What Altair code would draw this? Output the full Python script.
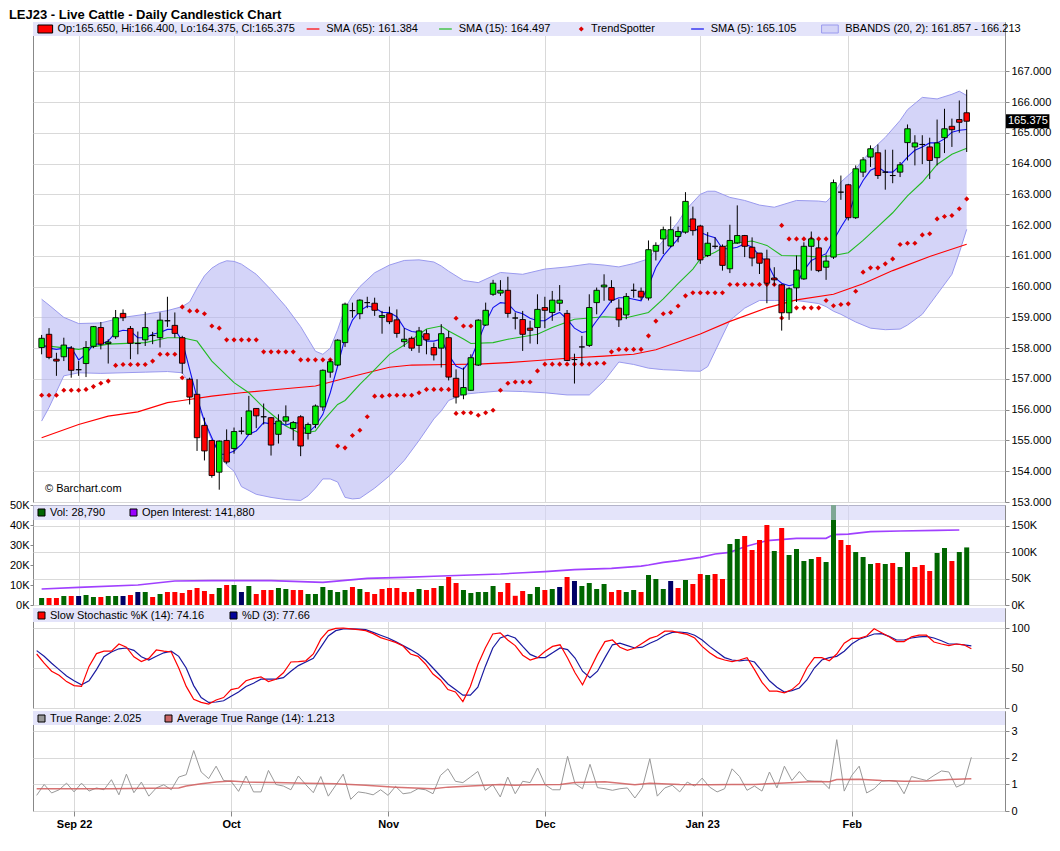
import altair as alt
import pandas as pd

FONT = 'Liberation Sans'
W = 972
H_PRICE = 480
H_SUB = 100
STRIP = '#e4e4fa'
GRID = '#d9d9d9'
S = W / 991.0

month_idx = [5, 26, 47, 68, 89, 109]
month_lbl = ['Sep 22', 'Oct', 'Nov', 'Dec', 'Jan 23', 'Feb']

opens = [158.02, 158.45, 157.64, 157.72, 158.0, 157.3, 157.5, 158.06, 158.67, 158.15,
         158.37, 159.13, 158.64, 158.15, 158.27, 158.41, 158.34, 158.89, 158.74, 158.34,
         156.99, 156.5, 155.49, 155.0, 153.97, 155.0, 154.74, 155.3, 155.2, 156.04,
         155.77, 155.74, 155.2, 155.63, 155.39, 155.77, 155.23, 155.52, 156.09, 157.22,
         157.45, 158.18, 159.22, 159.12, 159.48, 159.46, 159.0, 159.12, 158.92, 158.21,
         158.32, 158.09, 158.47, 158.02, 158.0, 158.34, 157.02, 156.48, 156.63, 157.45,
         158.75, 159.75, 159.79, 159.88, 158.98, 158.93, 158.65, 158.67, 159.32, 159.16,
         159.46, 159.13, 157.63, 158.04, 158.09, 159.48, 159.99, 159.97, 159.3, 159.08,
         159.88, 159.85, 159.63, 161.15, 161.55, 161.32, 161.63, 161.77, 162.2, 161.97,
         161.01, 161.31, 161.31, 160.58, 161.42, 161.66, 161.28, 161.09, 160.9, 160.28,
         160.06, 159.15, 159.96, 160.25, 161.31, 161.26, 160.63, 160.96, 163.07, 163.31,
         162.24, 163.72, 164.21, 164.35, 163.72, 163.61, 163.72, 164.68, 164.54, 164.62,
         164.54, 164.19, 164.84, 165.21, 165.43, 165.65]
highs = [158.43, 158.65, 157.85, 158.34, 158.07, 157.58, 158.23, 158.72, 158.85, 158.29,
         159.24, 159.26, 158.72, 158.54, 159.18, 158.53, 159.16, 159.67, 159.16, 158.4,
         157.04, 156.99, 155.74, 155.02, 155.0, 155.36, 155.42, 155.76, 156.45, 156.05,
         156.2, 155.76, 155.85, 156.14, 155.63, 155.82, 155.58, 156.17, 157.31, 157.64,
         158.29, 159.48, 159.48, 159.59, 159.67, 159.64, 159.21, 159.35, 159.26, 158.65,
         158.38, 158.69, 158.61, 158.18, 158.78, 158.56, 157.31, 157.37, 157.8, 158.94,
         159.48, 160.22, 160.21, 160.32, 159.16, 159.21, 158.89, 159.75, 159.67, 159.86,
         160.05, 159.24, 157.82, 158.4, 159.75, 159.97, 160.4, 160.21, 159.59, 159.79,
         160.1, 159.97, 161.5, 161.44, 161.95, 162.28, 161.95, 163.07, 162.6, 162.01,
         161.77, 161.6, 161.37, 162.01, 162.64, 161.68, 161.6, 161.09, 161.2, 160.63,
         160.09, 159.98, 161.01, 161.44, 161.79, 161.5, 161.04, 163.48, 163.61, 163.34,
         163.94, 164.21, 164.59, 164.62, 164.45, 164.45, 164.05, 165.27, 164.92, 164.92,
         164.84, 165.43, 165.78, 165.46, 166.05, 166.4]
lows = [157.8, 157.64, 157.1, 157.58, 157.04, 157.1, 157.06, 158.0, 157.96, 157.5,
        158.3, 158.88, 157.64, 157.8, 158.07, 158.13, 158.02, 158.69, 158.34, 157.17,
        156.17, 154.66, 154.35, 153.79, 153.4, 154.24, 154.57, 155.2, 155.18, 155.4,
        155.52, 154.51, 154.9, 155.52, 155.0, 154.49, 155.03, 155.4, 155.96, 157.04,
        157.42, 158.04, 158.99, 158.94, 159.3, 159.05, 158.47, 158.78, 158.34, 158.04,
        157.91, 157.85, 157.8, 157.6, 157.37, 156.95, 156.2, 156.34, 156.61, 157.42,
        158.72, 159.7, 159.7, 158.99, 158.61, 157.91, 158.15, 158.13, 158.65, 158.89,
        159.21, 157.58, 156.85, 157.48, 158.04, 159.1, 159.54, 159.48, 158.69, 158.94,
        159.64, 159.56, 159.55, 160.85, 161.06, 161.28, 161.44, 161.72, 161.66, 160.74,
        160.96, 161.23, 160.52, 160.44, 161.39, 160.96, 160.66, 160.41, 159.46, 160.03,
        158.57, 158.92, 159.5, 160.22, 160.52, 160.47, 160.22, 160.9, 162.82, 162.15,
        162.2, 163.56, 163.89, 163.5, 163.15, 163.36, 163.56, 164.1, 163.94, 163.98,
        163.5, 163.94, 164.34, 164.54, 165.0, 164.375]
closes = [158.32, 157.7, 157.58, 158.1, 157.28, 157.3, 158.02, 158.7, 158.13, 158.2,
          158.99, 158.99, 158.16, 158.15, 158.67, 158.41, 158.91, 158.89, 158.48, 157.51,
          156.41, 155.09, 154.66, 153.86, 154.98, 154.3, 155.29, 155.3, 155.96, 155.8,
          155.77, 154.85, 155.63, 155.77, 155.58, 154.82, 155.52, 156.12, 157.28, 157.56,
          158.26, 159.43, 159.22, 159.56, 159.48, 159.23, 159.06, 158.86, 158.48, 158.29,
          158.0, 158.56, 158.27, 157.78, 158.47, 157.06, 156.41, 156.72, 157.69, 158.91,
          159.23, 160.11, 159.88, 159.13, 158.98, 158.45, 158.58, 159.26, 159.23, 159.56,
          159.56, 157.6, 157.63, 158.04, 159.32, 159.88, 160.05, 159.56, 158.92, 159.68,
          159.88, 159.66, 161.2, 161.34, 161.85, 161.85, 161.79, 162.77, 161.82, 160.87,
          161.41, 161.31, 160.69, 161.5, 161.66, 161.31, 160.93, 160.76, 160.11, 160.22,
          159.15, 159.93, 160.54, 161.31, 161.55, 160.52, 160.83, 163.38, 163.07, 162.24,
          163.83, 164.12, 164.48, 163.61, 163.72, 163.61, 163.96, 165.13, 164.67, 164.62,
          164.1, 164.67, 165.13, 165.1, 165.34, 165.375]

sma5 = [158.1, 158.0, 157.96, 158.0, 158.02, 157.62, 157.8, 158.13, 158.13, 158.23,
        158.51, 158.58, 158.56, 158.34, 158.34, 158.45, 158.51, 158.61, 158.61, 158.23,
        157.31, 156.39, 155.63, 155.09, 154.55, 154.55, 154.66, 154.87, 155.2, 155.31,
        155.58, 155.54, 155.56, 155.5, 155.58, 155.56, 155.25, 155.47, 155.85, 156.55,
        157.42, 158.34, 158.91, 159.21, 159.37, 159.32, 159.16, 159.16, 159.02, 158.65,
        158.54, 158.51, 158.23, 158.23, 158.29, 157.78, 157.42, 157.31, 157.64, 158.23,
        158.83, 159.32, 159.48, 159.45, 159.19, 159.12, 158.97, 158.89, 158.89, 159.05,
        159.16, 158.94, 158.65, 158.51, 158.56, 158.89, 159.21, 159.54, 159.64, 159.64,
        159.59, 159.54, 160.02, 160.62, 161.0, 161.28, 161.55, 161.99, 161.93, 161.77,
        161.66, 161.59, 161.23, 161.23, 161.28, 161.39, 161.28, 161.01, 160.79, 160.31,
        160.11, 160.03, 160.09, 160.52, 160.85, 160.96, 161.07, 161.5, 161.93, 162.31,
        163.02, 163.45, 163.78, 163.89, 163.72, 163.72, 163.94, 164.21, 164.43, 164.54,
        164.67, 164.67, 164.8, 165.02, 165.08, 165.105]

sma15_idx = [0, 5, 9, 14, 17, 19, 21, 23, 26, 28, 30, 33, 35, 37, 38, 40, 41, 43, 45, 47,
             49, 52, 54, 55, 57, 58, 61, 63, 67, 69, 72, 76, 79, 82, 84, 86, 88, 89, 91, 93,
             96, 98, 100, 103, 105, 107, 109, 111, 113, 115, 117, 119, 121, 123, 125]
sma15_val = [158.09, 157.96, 158.13, 158.18, 158.34, 158.34, 158.23, 157.58, 156.88, 156.55,
             156.07, 155.47, 155.22, 155.31, 155.63, 156.17, 156.3, 156.82, 157.3, 157.8,
             158.1, 158.62, 158.72, 158.56, 158.3, 158.15, 158.18, 158.29, 158.45, 158.67,
             158.94, 159.02, 158.99, 159.16, 159.6, 160.1, 160.57, 160.9, 161.12, 161.39,
             161.48, 161.34, 161.01, 161.0, 160.96, 161.01, 161.1, 161.5, 161.95, 162.4,
             162.95, 163.4, 163.97, 164.3, 164.5]

sma65_idx = [0, 5, 9, 13, 17, 19, 23, 27, 31, 37, 41, 44, 47, 50, 55, 59, 63, 67, 72, 76,
             80, 83, 86, 89, 93, 98, 102, 107, 111, 115, 120, 125]
sma65_val = [155.09, 155.52, 155.79, 155.93, 156.23, 156.3, 156.44, 156.55, 156.64, 156.77,
             157.02, 157.2, 157.38, 157.45, 157.47, 157.48, 157.53, 157.6, 157.69, 157.74,
             157.8, 157.95, 158.2, 158.46, 158.87, 159.31, 159.57, 159.75, 160.09, 160.52,
             160.98, 161.38]

bb_idx = [0, 1, 3, 5, 8, 11, 14, 17, 19, 20, 21, 22, 23, 24, 25, 26, 27, 29, 31, 33,
          35, 36, 37, 38, 39, 40, 41, 42, 43, 45, 47, 49, 51, 53, 54, 55, 57, 59, 62, 65,
          68, 71, 74, 76, 78, 80, 82, 84, 86, 87, 89, 90, 91, 93, 95, 97, 99, 102, 105, 106,
          107, 108, 110, 112, 114, 116, 117, 119, 121, 123, 124, 125]
bb_up = [159.59, 159.4, 159.0, 158.8, 158.82, 159.0, 159.1, 159.22, 159.35, 159.5,
         159.95, 160.35, 160.6, 160.75, 160.84, 160.82, 160.73, 160.4, 159.9, 159.35,
         158.7, 158.3, 157.9, 157.8, 158.0, 158.6, 159.3, 159.7, 160.0, 160.45,
         160.7, 160.85, 160.87, 160.8, 160.67, 160.5, 160.2, 160.13, 160.46, 160.4,
         160.57, 160.64, 160.74, 160.7, 160.64, 160.75, 160.9, 161.5, 162.1, 162.48,
         163.0, 163.1, 163.1, 162.9, 162.8, 162.65, 162.58, 162.8, 162.78, 162.75,
         163.0, 163.4, 163.83, 164.4, 164.85, 165.4, 165.75, 166.15, 166.1, 166.25,
         166.35, 166.21]
bb_lo = [155.63, 156.07, 157.1, 157.2, 157.18, 157.2, 157.22, 157.24, 157.2, 156.85,
         156.2, 155.6, 155.0, 154.6, 154.2, 154.0, 153.5, 153.25, 153.15, 153.08,
         153.05, 153.2, 153.45, 153.75, 153.75, 153.65, 153.15, 153.1, 153.12, 153.45,
         153.85, 154.35, 155.0, 155.7, 155.96, 156.3, 156.5, 156.55, 156.61, 156.59,
         156.55, 156.48, 156.48, 156.93, 157.55, 157.47, 157.35, 157.3, 157.28, 157.26,
         157.25, 157.4, 157.9, 158.9, 159.3, 159.55, 159.55, 159.55, 159.45, 159.35,
         159.2, 159.1, 158.85, 158.65, 158.6, 158.62, 158.75, 159.1, 159.75, 160.4,
         161.1, 161.86]

ts_idx = [0, 1, 2, 3, 4, 5, 6, 7, 8, 9, 10, 11, 12, 13, 14, 15, 16, 17, 18, 19,
          19, 20, 21, 22, 23, 24, 25, 26, 27, 28, 29, 30, 31, 32, 33, 34, 35, 36, 37, 38,
          39, 40, 41, 42, 43, 44, 45, 46, 47, 48, 49, 50, 51, 52, 53, 54, 55, 56, 56, 57,
          57, 58, 58, 59, 60, 61, 62, 63, 64, 65, 66, 67, 68, 69, 70, 71, 72, 73, 74, 75,
          76, 77, 78, 79, 80, 81, 82, 83, 84, 85, 86, 87, 88, 89, 90, 91, 92, 93, 94, 95,
          96, 97, 98, 99, 100, 100, 101, 102, 103, 104, 105, 106, 102, 103, 104, 105, 106, 107, 108, 109,
          110, 111, 112, 113, 114, 115, 116, 117, 118, 119, 120, 121, 122, 123, 124, 125]
ts_val = [156.47, 156.47, 156.47, 156.63, 156.63, 156.63, 156.66, 156.75, 156.86, 156.93,
          157.44, 157.47, 157.47, 157.47, 157.47, 157.58, 157.8, 157.8, 157.8, 157.04,
          159.34, 159.21, 159.21, 159.12, 158.72, 158.65, 158.27, 158.27, 158.27, 158.27,
          158.27, 157.88, 157.88, 157.88, 157.88, 157.88, 157.62, 157.62, 157.62, 157.62,
          157.62, 154.82, 154.76, 155.16, 155.33, 155.77, 156.44, 156.44, 156.47, 156.47,
          156.47, 156.47, 156.55, 156.66, 156.66, 156.66, 156.66, 158.97, 155.88, 158.72,
          155.9, 158.72, 155.9, 155.82, 155.9, 155.98, 156.63, 156.86, 156.9, 156.9,
          156.9, 157.26, 157.48, 157.48, 157.48, 157.48, 157.48, 157.48, 157.48, 157.51,
          157.51, 157.88, 157.96, 157.96, 157.96, 157.96, 158.4, 158.88, 159.12, 159.16,
          159.37, 159.7, 159.8, 159.8, 159.8, 159.8, 159.8, 160.07, 160.07, 160.07,
          160.07, 160.07, 160.07, 160.07, 161.99, 158.98, 161.55, 161.55, 161.55, 161.55,
          161.55, 161.55, 159.31, 159.31, 159.31, 159.31, 159.55, 159.38, 159.42, 159.44,
          159.85, 160.47, 160.61, 160.61, 160.74, 160.9, 161.37, 161.41, 161.41, 161.68,
          161.72, 162.2, 162.28, 162.31, 162.53, 162.85]

vol_k = [3.5, 3.5, 3.5, 4.5, 4.5, 4.5, 5.0, 4.0, 4.0, 4.5,
         4.5, 4.5, 5.0, 6.5, 6.5, 4.0, 5.5, 6.5, 6.5, 6.0,
         7.5, 8.5, 7.0, 5.5, 8.5, 10.0, 10.0, 6.5, 9.5, 5.5,
         7.5, 7.5, 8.5, 8.0, 7.5, 7.5, 5.5, 5.5, 9.0, 7.5,
         6.5, 7.5, 9.0, 8.0, 6.5, 5.5, 8.0, 8.5, 8.5, 6.5,
         6.5, 8.0, 7.5, 8.5, 9.5, 14.0, 11.0, 7.5, 6.0, 6.5,
         6.5, 9.5, 6.5, 11.0, 4.6, 7.0, 5.5, 9.0, 7.5, 8.0,
         9.0, 14.0, 12.0, 9.5, 11.0, 8.0, 10.5, 6.5, 7.5, 6.5,
         7.5, 6.5, 15.0, 13.0, 8.0, 12.0, 8.5, 12.5, 10.5, 15.5,
         15.0, 15.5, 13.0, 30.5, 33.0, 34.5, 27.5, 32.5, 40.0, 27.0,
         38.5, 25.0, 28.0, 22.0, 23.0, 24.0, 21.5, 58.0, 32.5, 30.0,
         26.5, 24.0, 20.5, 21.0, 20.5, 21.0, 19.0, 26.5, 19.0, 20.0,
         17.0, 26.0, 28.5, 22.0, 26.5, 28.79]
vol_dir = list('grrgrnggrg' 'gnrngrgrrr' 'rrrrgrgngr' 'rrggrrgggg' 'ggrgrrrrrr'
               'rgrrgrrggg' 'ggrrrrggrg' 'nrnggggrrg' 'grgggnrgrr' 'grrggrrrrg'
               'rggggrggrr' 'gggrgrggrr' 'rggrgg')

oi_idx = [0, 5, 13, 18, 23, 31, 38, 44, 49, 53, 58, 62, 65, 68, 72, 77, 81, 82, 84, 86,
          89, 91, 93, 95, 98, 102, 106, 107, 109, 112, 116, 121, 124]
oi_k = [30.2, 33.4, 37.8, 45.4, 46.0, 46.0, 42.8, 50.4, 52.3, 54.2, 56.7, 58.6, 61.0, 63.0,
        66.8, 69.3, 73.5, 75.5, 80.6, 83.8, 90.0, 96.4, 99.5, 110.0, 121.6, 126.0, 126.0,
        133.0, 134.0, 138.6, 139.9, 141.0, 141.88]

stoch_k = [67.5, 56, 46, 41, 33, 28, 27, 52, 68, 71,
           71, 80, 76, 64, 58, 62, 72.5, 71, 70, 50,
           27, 11, 7, 5, 10, 13, 23, 25, 34, 37,
           39, 33, 36, 44, 57.5, 58, 59, 67.5, 86, 96.7,
           99.6, 100, 99, 98, 96.7, 93, 88, 85, 82, 77.5,
           67.5, 64.6, 55, 42.5, 35, 23, 20, 8, 27, 54,
           75, 92.5, 94, 85, 78, 66, 60, 63, 71, 77,
           79, 62.5, 44, 29, 48, 67, 83, 85, 76, 72,
           75, 81, 87, 90, 96, 96, 94, 92, 87.5, 77,
           69, 63, 60, 58, 60, 63, 48, 32, 21, 21,
           19, 23, 31, 50, 63, 63, 59, 67.5, 81, 87,
           87, 90, 99, 94, 89, 83, 83, 89, 91, 91,
           82.5, 80, 78, 80, 79, 74.16]
stoch_d = [71.7, 64.6, 56, 48, 40, 34, 29, 34, 48, 64,
           70, 74, 75, 72, 64, 60, 64.6, 69, 71, 64.6,
           50, 28, 13, 7, 7.5, 9, 14.6, 20, 27, 31,
           36, 36, 36, 38, 46, 53, 57.5, 62, 76, 90,
           96.7, 99, 99, 98.7, 98, 94.6, 91, 87.5, 83, 78,
           73, 67.5, 60, 50, 40, 30, 23, 16, 16, 26,
           52, 75, 87.5, 91, 87.5, 77, 67, 63, 63, 69,
           75, 73, 62.5, 46, 38, 46, 63, 79, 81, 78,
           75, 76, 81, 85, 91, 94.6, 95, 94, 91, 85,
           77, 70, 63, 60, 59, 60, 57.5, 46, 34, 26,
           20, 21.7, 25, 35, 50, 60, 63, 64.6, 71, 80,
           86, 89, 92.5, 93, 89.6, 85, 85, 87.5, 89, 89.6,
           87.5, 84, 80, 80, 79, 77.66]

true_range = [0.59, 1.0, 0.68, 0.8, 1.05, 0.72, 1.05, 0.75, 0.87, 0.8,
              1.18, 0.61, 1.39, 0.69, 1.09, 0.56, 0.87, 0.99, 0.8, 1.28,
              1.37, 2.28, 1.47, 1.22, 1.69, 1.15, 1.12, 0.74, 1.32, 0.72,
              0.72, 1.53, 1.0, 0.94, 0.8, 1.32, 0.99, 0.69, 1.3, 0.56,
              0.97, 1.39, 0.44, 0.72, 0.68, 0.61, 0.8, 0.59, 0.93, 0.65,
              0.69, 0.84, 0.8, 0.65, 1.34, 1.59, 1.12, 1.07, 1.28, 1.49,
              0.78, 0.99, 0.53, 1.28, 0.65, 1.12, 1.07, 1.62, 0.99, 0.8,
              0.8, 2.06, 1.03, 0.84, 1.76, 0.88, 0.84, 0.78, 0.84, 0.87,
              0.49, 0.88, 1.97, 0.56, 0.87, 0.97, 0.72, 1.09, 0.94, 1.24,
              0.9, 0.72, 0.84, 1.59, 1.3, 0.78, 0.94, 0.75, 1.47, 0.87,
              1.69, 1.15, 1.49, 1.15, 1.12, 1.12, 0.84, 2.69, 0.75, 1.34,
              1.69, 0.68, 0.84, 1.12, 1.15, 1.12, 0.65, 1.3, 1.22, 1.15,
              1.34, 1.51, 1.47, 0.9, 1.03, 2.025]
atr_idx = [0, 5, 10, 15, 19, 20, 22, 24, 26, 28, 32, 36, 40, 44, 48, 53, 55, 58, 62, 64,
           66, 70, 72, 76, 80, 82, 86, 90, 93, 96, 100, 104, 106, 107, 110, 113, 116, 119,
           122, 125]
atr_val = [0.84, 0.84, 0.84, 0.86, 0.87, 0.94, 1.03, 1.09, 1.13, 1.09, 1.07, 1.05, 1.03,
           0.97, 0.9, 0.84, 0.9, 0.94, 1.0, 0.97, 0.99, 1.0, 1.07, 1.1, 0.99, 1.05, 1.0,
           0.99, 1.0, 1.0, 1.06, 1.11, 1.1, 1.19, 1.2, 1.15, 1.12, 1.13, 1.19, 1.213]

# ---------------------------------------------------------------- tables
n = len(closes)
idx = list(range(n))
price_df = pd.DataFrame({'i': idx, 'o': opens, 'h': highs, 'l': lows, 'c': closes,
                         'sma5': sma5})
sma15_df = pd.DataFrame({'i': sma15_idx, 'v': sma15_val})
sma65_df = pd.DataFrame({'i': sma65_idx, 'v': sma65_val})
bb_df = pd.DataFrame({'i': bb_idx, 'up': bb_up, 'lo': bb_lo})
ts_df = pd.DataFrame({'i': ts_idx, 'v': ts_val})
vol_df = pd.DataFrame({'i': idx, 'v': vol_k, 'dir': vol_dir})
oi_df = pd.DataFrame({'i': oi_idx, 'oi': oi_k})
st_df = pd.DataFrame({'i': idx, 'k': stoch_k, 'd': stoch_d})
tr_df = pd.DataFrame({'i': idx, 'tr': true_range})
atr_df = pd.DataFrame({'i': atr_idx, 'atr': atr_val})
last_df = pd.DataFrame({'i': [n - 1], 'c': [closes[-1]]})
ONE = pd.DataFrame({'k': [0]})

lbl_expr = " : ".join(f"datum.value == {v} ? '{t}'" for v, t in zip(month_idx, month_lbl)) + " : ''"
xscale = alt.Scale(domain=[-0.49, 129.5], nice=False, zero=False)


def xenc(labels=False):
    if labels:
        ax = alt.Axis(values=month_idx, labelExpr=lbl_expr, grid=True, gridColor=GRID,
                      domain=False, ticks=True, tickSize=5, tickColor='#888888',
                      labelFontWeight='bold', labelFontSize=11, labelColor='black',
                      labelPadding=2, labelOverlap=False, labelFont=FONT, title=None)
    else:
        ax = alt.Axis(values=month_idx, labels=False, ticks=False, grid=True,
                      gridColor=GRID, domain=False, title=None)
    return alt.X('i:Q', scale=xscale, axis=ax)


def strip(h, color=STRIP, opacity=1.0):
    return alt.Chart(ONE).mark_rect(color=color, opacity=opacity).encode(
        x=alt.value(0), x2=alt.value(W), y=alt.value(0), y2=alt.value(h))


def swatch(x0, x1, y0, y1, fill, stroke='black'):
    return alt.Chart(ONE).mark_rect(fill=fill, stroke=stroke, strokeWidth=1).encode(
        x=alt.value(x0), x2=alt.value(x1), y=alt.value(y0), y2=alt.value(y1))


def lsw(x0, x1, y, color):
    return alt.Chart(ONE).mark_rule(color=color, strokeWidth=1.2).encode(
        x=alt.value(x0), x2=alt.value(x1), y=alt.value(y))


def txt(x, y, s, **kw):
    return alt.Chart(ONE).mark_text(text=s, align='left', baseline='middle', fontSize=11,
                                    font=FONT, color='black', **kw).encode(
        x=alt.value(x), y=alt.value(y))


# ---------------------------------------------------------------- price panel
pscale = alt.Scale(domain=[153, 168.6], nice=False, zero=False)
paxis = alt.Axis(orient='right', values=list(range(153, 168)), format='.3f', grid=True,
                 gridColor=GRID, domain=False, tickSize=4, tickColor='#888888',
                 labelFontSize=11, labelColor='black', labelPadding=2,
                 labelOverlap=False, title=None)


def yP(f):
    return alt.Y(f, scale=pscale, axis=paxis)


bb_area = alt.Chart(bb_df).mark_area(color='#b0b0f2', opacity=0.55).encode(
    x=xenc(), y=yP('up:Q'), y2='lo:Q')
bb_l1 = alt.Chart(bb_df).mark_line(color='#9a9aee', strokeWidth=1).encode(x=xenc(), y=yP('up:Q'))
bb_l2 = alt.Chart(bb_df).mark_line(color='#9a9aee', strokeWidth=1).encode(x=xenc(), y=yP('lo:Q'))
l65 = alt.Chart(sma65_df).mark_line(color='#ff0000', strokeWidth=1.1).encode(x=xenc(), y=yP('v:Q'))
l15 = alt.Chart(sma15_df).mark_line(color='#22bb22', strokeWidth=1.1).encode(x=xenc(), y=yP('v:Q'))
l5 = alt.Chart(price_df).mark_line(color='#1010ee', strokeWidth=1.1).encode(x=xenc(), y=yP('sma5:Q'))
tsp = alt.Chart(ts_df).mark_point(shape='diamond', filled=True, color='#dd0000', size=26,
                                  opacity=1).encode(x=xenc(), y=yP('v:Q'))
wick = alt.Chart(price_df).mark_rule(color='black', strokeWidth=1).encode(
    x=xenc(), y=yP('l:Q'), y2='h:Q')
body = alt.Chart(price_df).mark_bar(size=5.5, stroke='black', strokeWidth=0.9).encode(
    x=xenc(), y=yP('o:Q'), y2='c:Q',
    color=alt.condition('datum.c >= datum.o', alt.value('#00ee00'), alt.value('#ff0000')))
box = alt.Chart(last_df).mark_point(shape='M0,-1H6.2V1H0Z', size=196, filled=True,
                                    color='black', opacity=1, strokeWidth=0).encode(
    x=alt.value(W + 1), y=yP('c:Q'))
boxtxt = alt.Chart(last_df).mark_text(align='left', baseline='middle', color='white',
                                      fontSize=11, font=FONT).encode(
    x=alt.value(W + 3), y=yP('c:Q'), text=alt.Text('c:Q', format='.3f'))

p_leg = [
    strip(14),
    swatch(5 * S, 20 * S, 3, 11, '#ff0000'),
    txt(25 * S, 7, 'Op:165.650, Hi:166.400, Lo:164.375, Cl:165.375'),
    lsw(279 * S, 292 * S, 7, '#ff0000'),
    txt(299 * S, 7, 'SMA (65): 161.384'),
    lsw(414 * S, 427 * S, 7, '#22bb22'),
    txt(434 * S, 7, 'SMA (15): 164.497'),
    alt.Chart(ONE).mark_point(shape='diamond', filled=True, color='#dd0000', size=26,
                              opacity=1).encode(x=alt.value(559 * S), y=alt.value(7)),
    txt(569 * S, 7, 'TrendSpotter'),
    lsw(671 * S, 684 * S, 7, '#1010ee'),
    txt(691 * S, 7, 'SMA (5): 165.105'),
    swatch(804 * S, 821 * S, 3, 11, '#d4d4f7', '#9a9aee'),
    txt(828 * S, 7, 'BBANDS (20, 2): 161.857 - 166.213'),
    txt(12, H_PRICE - 13, '\u00a9 Barchart.com'),
]

price = alt.layer(bb_area, bb_l1, bb_l2, l65, l15, l5, tsp, wick, body, box, boxtxt,
                  *p_leg).properties(width=W, height=H_PRICE)

# ---------------------------------------------------------------- volume panel
vaxis = alt.Axis(orient='left', values=[0, 10, 20, 30, 40, 50], labelExpr="datum.value + 'K'",
                 grid=False, domain=False, tickSize=3, tickColor='#888888', labelFontSize=11,
                 labelColor='black', labelPadding=1, title=None)
oaxis = alt.Axis(orient='right', values=[0, 50, 100, 150], labelExpr="datum.value + 'K'",
                 grid=True, gridColor=GRID, domain=False, tickSize=4, tickColor='#888888',
                 labelFontSize=11, labelColor='black', labelPadding=2, title=None)
vbars = alt.Chart(vol_df).mark_bar(size=5, clip=True).encode(
    x=xenc(), y=alt.Y('v:Q', scale=alt.Scale(domain=[0, 50], nice=False), axis=vaxis),
    color=alt.Color('dir:N', scale=alt.Scale(domain=['g', 'r', 'n'],
                                             range=['#006600', '#ff0000', '#000066']),
                    legend=None))
oil = alt.Chart(oi_df).mark_line(color='#a040ff', strokeWidth=1.6).encode(
    x=xenc(), y=alt.Y('oi:Q', scale=alt.Scale(domain=[0, 189], nice=False), axis=oaxis))
v_leg = [
    strip(15, '#d2d2f7', 0.6),
    swatch(5, 12, 4, 11, '#006600'),
    txt(17, 7.5, 'Vol: 28,790'),
    swatch(97, 104, 4, 11, '#9900ff'),
    txt(109, 7.5, 'Open Interest: 141,880'),
]
volume = alt.layer(oil, vbars, *v_leg).resolve_scale(y='independent').properties(
    width=W, height=H_SUB)

# ---------------------------------------------------------------- stochastic
saxis = alt.Axis(orient='right', values=[0, 50, 100], grid=True, gridColor=GRID, domain=False,
                 tickSize=4, tickColor='#888888', labelFontSize=11, labelColor='black',
                 labelPadding=2, title=None)
sscale = alt.Scale(domain=[0, 125], nice=False)
kl = alt.Chart(st_df).mark_line(color='#ff0000', strokeWidth=1.2).encode(
    x=xenc(), y=alt.Y('k:Q', scale=sscale, axis=saxis))
dl = alt.Chart(st_df).mark_line(color='#1a1aa0', strokeWidth=1.2).encode(
    x=xenc(), y=alt.Y('d:Q', scale=sscale, axis=saxis))
s_leg = [
    strip(14),
    swatch(5, 12, 4, 11, '#ff0000'),
    txt(17, 7.5, 'Slow Stochastic %K (14): 74.16'),
    swatch(197, 204, 4, 11, '#000099'),
    txt(209, 7.5, '%D (3): 77.66'),
]
stoch = alt.layer(dl, kl, *s_leg).properties(width=W, height=H_SUB)

# ---------------------------------------------------------------- true range
taxis = alt.Axis(orient='right', values=[0, 1, 2, 3], grid=True, gridColor=GRID, domain=False,
                 tickSize=4, tickColor='#888888', labelFontSize=11, labelColor='black',
                 labelPadding=2, title=None)
tscale = alt.Scale(domain=[0, 3.77], nice=False)
trl = alt.Chart(tr_df).mark_line(color='#999999', strokeWidth=1).encode(
    x=xenc(True), y=alt.Y('tr:Q', scale=tscale, axis=taxis))
atrl = alt.Chart(atr_df).mark_line(color='#d05a5a', strokeWidth=1.5, opacity=0.85).encode(
    x=xenc(True), y=alt.Y('atr:Q', scale=tscale, axis=taxis))
t_leg = [
    strip(14),
    swatch(5, 12, 4, 11, '#999999'),
    txt(17, 7.5, 'True Range: 2.025'),
    swatch(132, 139, 4, 11, '#cc6666'),
    txt(144, 7.5, 'Average True Range (14): 1.213'),
]
trp = alt.layer(trl, atrl, *t_leg).properties(width=W, height=H_SUB)

chart = alt.vconcat(price, volume, stoch, trp, spacing=3, bounds='flush').properties(
    title=alt.TitleParams('LEJ23 - Live Cattle - Daily Candlestick Chart', anchor='start',
                          fontSize=13, fontWeight='bold', font=FONT, color='black', offset=0),
    padding={'left': 0, 'top': 0, 'right': 0, 'bottom': 0},
).configure_view(stroke='#888888', strokeWidth=1).configure_axis(labelFont=FONT)

chart.save('out.html', embed_options={'renderer': 'svg', 'actions': False})
